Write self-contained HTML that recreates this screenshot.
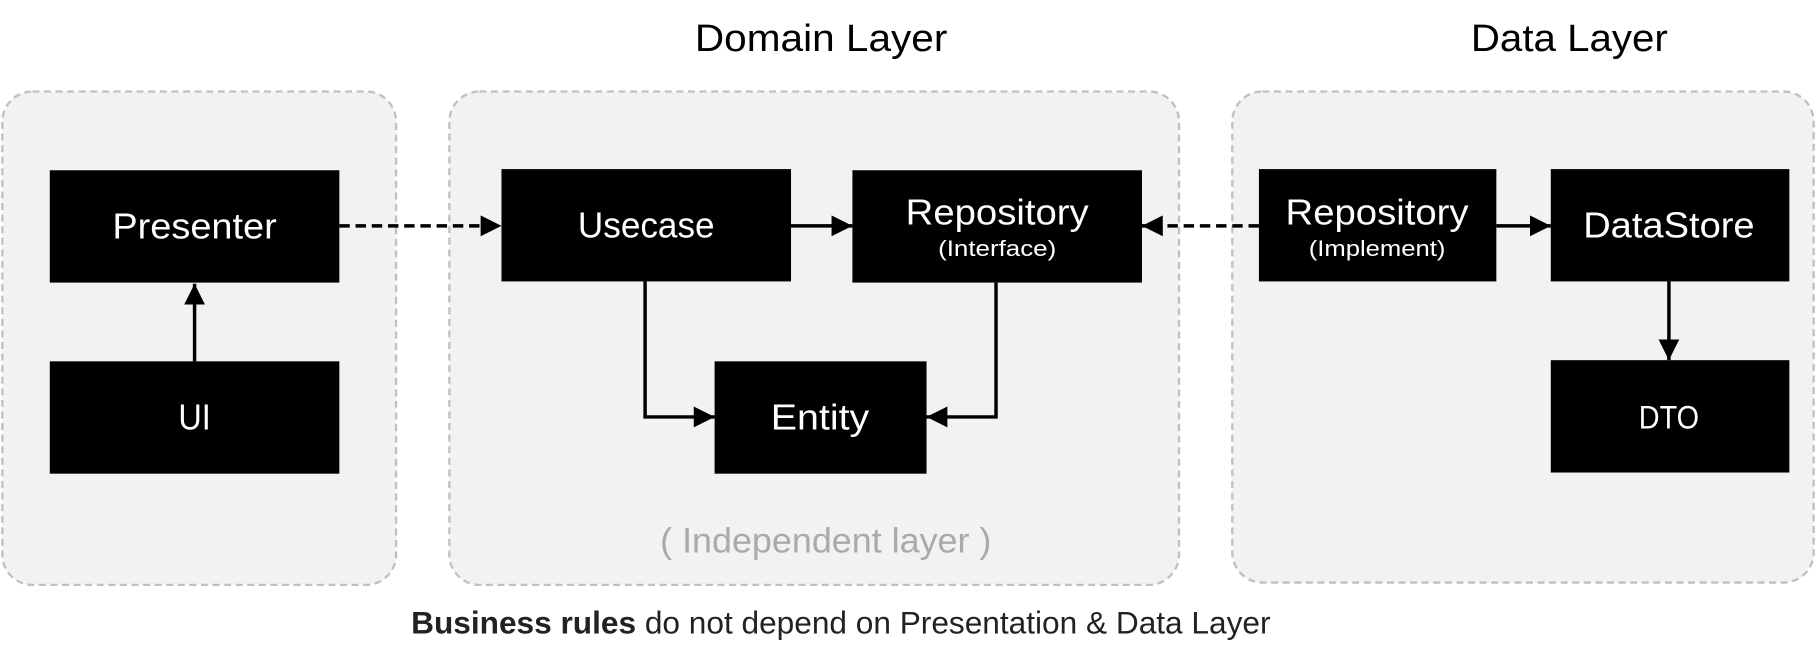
<!DOCTYPE html>
<html><head><meta charset="utf-8"><style>html,body{margin:0;padding:0;background:#fff}svg{display:block}</style></head>
<body>
<svg width="1816" height="662" viewBox="0 0 1568 571.6" preserveAspectRatio="none" xmlns="http://www.w3.org/2000/svg" font-family="'Liberation Sans', sans-serif">
<defs>
<marker id="a" viewBox="0 0 10 10" refX="10" refY="5" markerWidth="18" markerHeight="18" markerUnits="userSpaceOnUse" orient="auto"><path d="M0,0L10,5L0,10z" fill="#000"/></marker>
</defs>
<text x="709" y="44" font-size="33" text-anchor="middle" fill="#000" textLength="218" lengthAdjust="spacingAndGlyphs">Domain Layer</text>
<text x="1355" y="44" font-size="33" text-anchor="middle" fill="#000" textLength="170" lengthAdjust="spacingAndGlyphs">Data Layer</text>
<g fill="#f2f2f2" stroke="#c0c0c0" stroke-width="2" stroke-dasharray="6,4">
<rect x="2" y="79" width="340" height="426" rx="26"/>
<rect x="388" y="79" width="630" height="426" rx="26"/>
<rect x="1064" y="79" width="502" height="424" rx="26"/>
</g>
<g fill="#000">
<rect x="43" y="147" width="250" height="97"/>
<rect x="43" y="312" width="250" height="97"/>
<rect x="433" y="146" width="250" height="97"/>
<rect x="736" y="147" width="250" height="97"/>
<rect x="617" y="312" width="183" height="97"/>
<rect x="1087" y="146" width="205" height="97"/>
<rect x="1339" y="146" width="206" height="97"/>
<rect x="1339" y="311" width="206" height="97"/>
</g>
<g fill="#fff" font-size="31" text-anchor="middle">
<text x="168" y="206" textLength="142" lengthAdjust="spacingAndGlyphs">Presenter</text>
<text x="168" y="371" textLength="28" lengthAdjust="spacingAndGlyphs">UI</text>
<text x="558" y="205" textLength="118" lengthAdjust="spacingAndGlyphs">Usecase</text>
<text x="861" y="194" textLength="158" lengthAdjust="spacingAndGlyphs">Repository</text>
<text x="861" y="221" font-size="19" textLength="102" lengthAdjust="spacingAndGlyphs">(Interface)</text>
<text x="708" y="371" textLength="85" lengthAdjust="spacingAndGlyphs">Entity</text>
<text x="1189" y="194" textLength="158" lengthAdjust="spacingAndGlyphs">Repository</text>
<text x="1189" y="221" font-size="19" textLength="118" lengthAdjust="spacingAndGlyphs">(Implement)</text>
<text x="1441" y="205" textLength="148" lengthAdjust="spacingAndGlyphs">DataStore</text>
<text x="1441" y="370" font-size="28" textLength="52" lengthAdjust="spacingAndGlyphs">DTO</text>
</g>
<g stroke="#000" stroke-width="3" fill="none">
<line x1="293" y1="195" x2="433" y2="195" stroke-dasharray="9,5" marker-end="url(#a)"/>
<line x1="168" y1="312" x2="168" y2="245" marker-end="url(#a)"/>
<line x1="683" y1="195" x2="736" y2="195" marker-end="url(#a)"/>
<polyline points="557,243 557,360 617,360" marker-end="url(#a)"/>
<polyline points="860,244 860,360 800,360" marker-end="url(#a)"/>
<line x1="1087" y1="195" x2="986" y2="195" stroke-dasharray="9,5" marker-end="url(#a)"/>
<line x1="1292" y1="195" x2="1339" y2="195" marker-end="url(#a)"/>
<line x1="1441" y1="243" x2="1441" y2="311" marker-end="url(#a)"/>
</g>
<text x="713" y="477" font-size="30" fill="#aaa" text-anchor="middle" textLength="286" lengthAdjust="spacingAndGlyphs">( Independent layer )</text>
<text x="355" y="547" font-size="27" fill="#222" textLength="742" lengthAdjust="spacingAndGlyphs"><tspan font-weight="bold">Business rules</tspan> do not depend on Presentation &amp; Data Layer</text>
</svg>
</body></html>
